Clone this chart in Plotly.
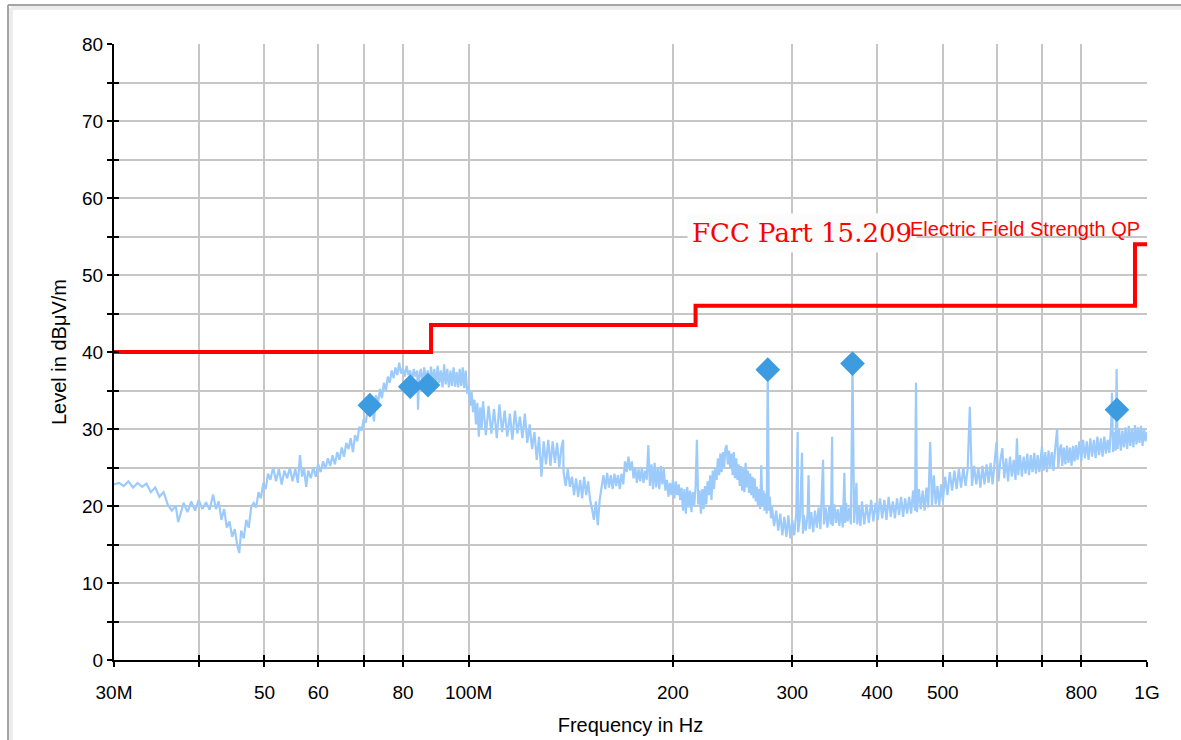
import plotly.graph_objects as go

# ---------------- data (MHz / dBuV/m) ----------------
scan_freq_mhz = [
    30.0, 30.5, 31.0, 31.5, 32.0, 32.5, 33.0, 33.5, 34.0, 34.5, 35.0, 35.5,
    36.0, 36.5, 37.0, 37.3, 37.6, 38.0, 38.5, 39.0, 39.5, 40.0, 40.5, 41.0,
    41.5, 42.0, 42.4, 42.8, 43.2, 43.6, 44.0, 44.4, 44.8, 45.2, 45.6, 45.9,
    46.2, 46.6, 47.0, 47.4, 47.8, 48.2, 48.6, 49.0, 49.4, 49.8, 50.2, 50.6,
    51.0, 51.5, 52.0, 52.5, 53.0, 53.5, 54.0, 54.5, 55.0, 55.5, 56.0, 56.4,
    56.8, 57.2, 57.6, 58.0, 58.5, 59.0, 59.5, 60.0, 60.5, 61.0, 61.5, 62.0,
    62.5, 63.0, 63.5, 64.0, 64.5, 65.0, 65.5, 66.0, 66.5, 67.0, 67.5, 68.0,
    68.5, 69.0, 69.5, 70.0, 70.5, 71.0, 71.5, 72.0, 72.5, 73.0, 73.5, 74.0,
    74.5, 75.0, 75.5, 76.0, 76.5, 77.0, 77.5, 78.0, 78.5, 79.0, 79.5, 80.0,
    80.5, 81.0, 81.5, 82.0, 82.5, 83.0, 83.5, 84.0, 84.2, 84.5, 85.0, 85.5,
    86.0, 86.5, 87.0, 87.5, 88.0, 88.5, 89.0, 89.5, 90.0, 90.5, 91.0, 91.5,
    92.0, 92.5, 93.0, 93.5, 94.0, 94.5, 95.0, 95.5, 96.0, 96.5, 97.0, 97.5,
    98.0, 98.5, 99.0, 99.5, 100.0, 100.5, 101.0, 101.5, 102.0, 102.5, 103.0, 103.5,
    104, 104.5, 105, 106, 107, 108, 109, 110, 111, 112, 113, 114,
    115, 116, 117, 118, 119, 120, 121, 122, 123, 124, 125, 126,
    127, 128, 129, 130, 131, 132, 133, 134, 135, 136, 137, 137.8,
    138, 139, 140, 141, 142, 143, 144, 145, 146, 147, 148, 149,
    150, 151, 152, 153, 154, 155, 156, 157, 158, 159, 160, 161,
    162, 163, 164, 165, 166, 167, 168, 169, 170, 171, 172, 173,
    174, 175, 176, 177, 178, 179, 180, 181, 182, 183, 184, 185,
    186, 187, 188, 189, 190, 191, 192, 193, 194, 195, 196, 197,
    198, 199, 200, 201, 202, 203, 204, 205, 206, 207, 208, 209,
    210, 211, 212, 213, 214, 215, 216, 217, 218, 219, 220, 221,
    222, 223, 224, 225, 226, 227, 228, 229, 230, 231, 232, 233,
    234, 235, 236, 237, 238, 239, 240, 241, 242, 243, 244, 245,
    246, 247, 248, 249, 250, 251, 252, 253, 254, 255, 256, 257,
    258, 259, 260, 261, 262, 263, 264, 265, 266, 267, 268, 269,
    270, 271, 272, 273, 274, 275, 276, 277, 278, 279, 280, 282,
    284, 286, 288, 290, 292, 294, 296, 298, 300, 302, 304, 305.5,
    306, 308, 310, 311, 312, 314, 316, 317, 318, 320, 322, 324,
    326, 328, 330, 333, 334, 336, 338, 340, 342, 343.4, 344, 346,
    348, 350, 352, 354, 356, 358, 359, 360, 362, 364, 366, 368,
    370, 373, 374, 376, 378, 380, 383, 386, 389, 392, 395, 398,
    401, 404, 407, 410, 413, 416, 419, 422, 425, 428, 431, 434,
    437, 440, 443, 446, 449, 452, 455, 456.5, 458, 461, 464, 467,
    470, 473, 476, 479, 482, 485, 488, 491, 494, 497, 500, 504,
    508, 512, 516, 520, 524, 528, 532, 536, 540, 544, 548, 552,
    556, 560, 564, 568, 572, 576, 580, 584, 588, 592, 596, 600,
    604, 608, 612, 616, 620, 624, 628, 632, 636, 640, 643, 646,
    650, 654, 658, 662, 666, 670, 674, 678, 682, 686, 690, 694,
    700, 704, 708, 712, 716, 720, 724, 728, 732, 737, 740, 744,
    747, 750, 754, 758, 762, 766, 770, 774, 778, 782, 786, 790,
    795, 800, 805, 810, 815, 820, 825, 830, 835, 840, 845, 850,
    855, 860, 865, 870, 875, 880, 885, 888, 891, 895, 899, 902,
    905, 910, 915, 920, 925, 930, 935, 940, 945, 950, 955, 960,
    965, 970, 975, 980, 985, 990, 995, 1000,
]
scan_level = [
    22.8, 23.0, 22.6, 23.2, 22.4, 23.0, 22.5, 22.9, 21.8, 22.4, 21.2, 21.8,
    20.2, 19.4, 20.0, 17.9, 19.0, 20.4, 19.2, 20.6, 19.4, 20.8, 19.6, 20.5,
    19.5, 21.5, 19.6, 20.6, 18.2, 19.6, 17.2, 18.0, 16.0, 17.0, 14.8, 13.9,
    16.8, 15.8, 18.2, 17.2, 19.9, 20.4, 19.8, 21.8, 21.0, 23.0, 22.2, 24.2,
    23.4, 25.0, 23.2, 24.8, 22.8, 24.6, 23.6, 25.0, 23.2, 24.8, 23.0, 26.6,
    23.8, 24.8, 22.5, 24.6, 23.6, 25.0, 23.8, 25.4, 24.4, 25.8, 24.8, 26.2,
    25.2, 26.6, 25.4, 27.0, 26.0, 27.6, 26.4, 28.2, 27.4, 28.8, 27.0, 29.2,
    28.4, 30.3, 29.8, 31.2, 30.8, 32.6, 31.8, 33.6, 31.0, 34.4, 33.2, 35.2,
    34.0, 36.0, 35.0, 36.8, 36.0, 37.6, 36.6, 38.0, 37.0, 38.6, 37.2, 37.9,
    36.8, 38.2, 37.0, 37.6, 36.2, 37.8, 36.8, 37.6, 32.5, 36.6, 37.8, 35.8,
    38.0, 36.2, 37.6, 35.6, 38.1, 36.0, 37.8, 35.4, 38.2, 36.0, 37.6, 35.4,
    38.4, 35.8, 37.8, 35.4, 37.6, 35.6, 38.0, 35.5, 37.4, 35.4, 37.8, 35.6,
    38.0, 35.3, 37.6, 34.6, 35.6, 33.0, 34.8, 32.2, 33.8, 30.6, 33.4, 29.0,
    32.8, 30.0, 33.6, 29.2, 33.0, 29.4, 32.6, 28.8, 33.2, 29.6, 32.4, 29.0,
    32.0, 28.6, 32.4, 29.4, 31.6, 28.8, 32.0, 28.2, 30.6, 27.4, 29.6, 26.0,
    29.0, 23.8, 28.4, 25.4, 28.6, 25.2, 28.4, 25.6, 28.2, 25.0, 27.6, 28.6,
    24.4, 22.6, 24.8, 22.5, 23.8, 21.4, 23.6, 21.2, 23.4, 21.0, 23.8, 21.4,
    23.2, 20.8, 19.6, 18.2, 20.6, 17.5, 20.8, 22.4, 24.0, 22.2, 24.3, 22.4,
    24.0, 22.2, 24.2, 22.6, 24.0, 22.2, 24.2, 22.8, 25.8, 24.4, 26.4, 24.6,
    25.8, 23.6, 25.0, 23.0, 24.8, 23.2, 25.0, 23.0, 24.6, 23.4, 27.9, 22.6,
    25.4, 22.2, 25.6, 22.4, 25.0, 22.2, 25.2, 22.8, 24.8, 22.0, 23.4, 21.2,
    23.0, 21.4, 23.4, 21.0, 23.2, 21.4, 22.8, 20.8, 22.4, 19.4, 22.2, 19.0,
    22.5, 19.8, 22.0, 19.2, 21.8, 20.0, 22.4, 28.6, 20.2, 22.0, 19.0, 22.2,
    19.6, 22.6, 20.2, 23.2, 21.4, 24.0, 20.8, 24.6, 22.2, 25.0, 23.4, 26.2,
    24.0, 26.8, 24.4, 27.0, 25.0, 27.4, 27.9, 25.4, 27.2, 24.8, 26.8, 24.0,
    27.0, 23.6, 26.2, 23.4, 25.4, 22.6, 25.2, 22.0, 24.8, 21.8, 25.6, 22.4,
    24.6, 21.7, 24.2, 21.4, 23.8, 21.0, 23.6, 20.6, 22.5, 20.0, 22.2, 19.6,
    25.3, 20.0, 22.0, 19.4, 21.6, 19.0, 37.7, 19.4, 21.2, 18.4, 19.9, 17.4,
    19.4, 16.8, 19.0, 16.2, 18.6, 16.0, 18.8, 15.8, 18.2, 16.2, 19.0, 29.6,
    16.6, 18.6, 26.9, 16.4, 18.8, 16.8, 19.0, 24.0, 17.0, 19.2, 16.6, 19.4,
    17.2, 19.8, 17.0, 26.0, 17.6, 19.8, 17.2, 20.0, 17.6, 29.0, 17.4, 20.2,
    17.8, 19.6, 17.4, 20.0, 17.2, 24.3, 17.8, 20.4, 18.0, 19.8, 17.6, 38.5,
    17.8, 23.0, 17.6, 20.0, 17.4, 20.6, 17.6, 20.2, 17.8, 20.8, 18.0, 20.4,
    18.2, 21.0, 18.4, 20.8, 18.2, 21.2, 18.6, 20.6, 18.4, 21.0, 18.8, 21.2,
    18.6, 21.0, 19.0, 21.2, 19.0, 22.0, 19.4, 36.0, 19.2, 22.2, 19.6, 22.0,
    19.4, 22.4, 19.8, 28.3, 20.0, 24.0, 20.2, 22.6, 20.0, 22.8, 20.6, 23.8,
    21.4, 24.4, 22.0, 24.6, 22.2, 24.8, 22.4, 25.0, 22.6, 24.8, 32.9, 22.6,
    25.2, 22.8, 25.0, 22.4, 25.2, 22.8, 25.4, 23.0, 25.6, 22.8, 25.8, 28.3,
    23.2, 26.0, 27.5, 23.6, 26.2, 23.2, 26.4, 23.8, 26.0, 23.4, 28.8, 24.0,
    26.6, 23.8, 26.4, 24.2, 26.8, 24.0, 26.6, 24.4, 26.9, 24.2, 26.6, 24.4,
    27.7, 24.6, 27.0, 24.4, 27.2, 25.0, 27.0, 24.6, 27.4, 30.0, 25.0, 27.4,
    28.0, 25.2, 27.6, 25.4, 27.8, 25.6, 27.6, 25.2, 27.8, 25.8, 27.9, 26.0,
    28.4, 25.8, 28.6, 26.2, 28.4, 26.0, 28.8, 26.4, 28.6, 26.2, 29.0, 26.6,
    28.8, 26.4, 29.0, 26.8, 28.6, 26.9, 30.2, 34.7, 27.0, 29.6, 27.2, 37.8,
    27.4, 30.0, 27.2, 29.8, 27.6, 30.2, 27.4, 30.4, 27.8, 30.0, 27.6, 30.5,
    28.0, 30.2, 28.2, 30.4, 27.8, 30.0, 28.4, 29.6,
]

peak_freq_mhz = [71.5, 82.0, 87.1, 276.0, 368.0, 903.0]
peak_level = [33.1, 35.5, 35.7, 37.7, 38.5, 32.5]

limit_freq_mhz = [30, 88, 216, 960, 1000]
limit_level = [40.0, 43.5, 46.0, 54.0, 54.0]

x_tickvals = [30, 40, 50, 60, 70, 80, 100, 200, 300, 400, 500, 600, 700, 800, 1000]
x_ticktext = ["30M", "", "50", "60", "", "80", "100M", "200", "300", "400", "500", "", "", "800", "1G"]
y_tickvals = [0, 5, 10, 15, 20, 25, 30, 35, 40, 45, 50, 55, 60, 65, 70, 75, 80]
y_ticktext = ["0", "", "10", "", "20", "", "30", "", "40", "", "50", "", "60", "", "70", "", "80"]

# ---------------- figure ----------------
SANS = "Liberation Sans, Arial, sans-serif"
W, H = 1181, 740
L, R, T, B = 114, 34, 44, 80
pw, ph = W - L - R, H - T - B

fig = go.Figure()

fig.add_trace(go.Scatter(
    x=scan_freq_mhz, y=scan_level, mode="lines",
    line=dict(color="#9ccbfb", width=2.2), hoverinfo="skip", showlegend=False,
))
fig.add_trace(go.Scatter(
    x=limit_freq_mhz, y=limit_level, mode="lines", line_shape="hv",
    line=dict(color="#ff0000", width=4), hoverinfo="skip", showlegend=False,
))
fig.add_trace(go.Scatter(
    x=peak_freq_mhz, y=peak_level, mode="markers",
    marker=dict(symbol="diamond", size=19, color="#3d9be0"),
    hoverinfo="skip", showlegend=False,
))
# empty trace to register the overlay axes (used for the inner half of ticks)
fig.add_trace(go.Scatter(x=[], y=[], xaxis="x2", yaxis="y2", showlegend=False, hoverinfo="skip"))

axis_common = dict(tickfont=dict(family=SANS, size=19, color="#000"))

fig.update_layout(
    width=W, height=H,
    margin=dict(l=L, r=R, t=T, b=B, autoexpand=False),
    paper_bgcolor="white", plot_bgcolor="white",
    showlegend=False,
    font=dict(family=SANS, color="#000"),
    xaxis=dict(
        type="log", range=[1.4771213, 3.0],
        tickmode="array", tickvals=x_tickvals, ticktext=x_ticktext,
        ticks="outside", ticklen=5, tickwidth=2, tickcolor="#000",
        showline=True, linecolor="#000", linewidth=2,
        showgrid=True, gridcolor="#c6c6c6", gridwidth=2,
        zeroline=False, ticklabelstandoff=9,
        title=dict(text="Frequency in Hz", font=dict(family=SANS, size=20), standoff=16),
        automargin=False,
        **axis_common,
    ),
    yaxis=dict(
        range=[0, 80],
        tickmode="array", tickvals=y_tickvals, ticktext=y_ticktext,
        ticks="outside", ticklen=5, tickwidth=2, tickcolor="#000",
        showline=True, linecolor="#000", linewidth=2,
        showgrid=True, gridcolor="#c6c6c6", gridwidth=2,
        zeroline=False,
        title=dict(text="Level in dBμV/m", font=dict(family=SANS, size=20), standoff=10),
        automargin=False,
        **axis_common,
    ),
    xaxis2=dict(
        type="log", range=[1.4771213, 3.0], overlaying="x", anchor="y2",
        tickmode="array", tickvals=x_tickvals, showticklabels=False,
        ticks="inside", ticklen=5, tickwidth=2, tickcolor="#000",
        showgrid=False, showline=False, zeroline=False,
    ),
    yaxis2=dict(
        range=[0, 80], overlaying="y", anchor="x2", side="left",
        tickmode="array", tickvals=y_tickvals, showticklabels=False,
        ticks="inside", ticklen=5, tickwidth=2, tickcolor="#000",
        showgrid=False, showline=False, zeroline=False,
    ),
)

# limit-line labels
fig.add_annotation(
    xref="paper", yref="paper", x=(687 - L) / pw, y=(H - B - 233) / ph,
    xanchor="left", yanchor="middle", showarrow=False,
    text="FCC Part 15.209", font=dict(family="DejaVu Serif", size=26, color="#ff0000"),
    bgcolor="#fcfcfc", borderpad=4,
)
fig.add_annotation(
    xref="paper", yref="paper", x=(908 - L) / pw, y=(H - B - 229) / ph,
    xanchor="left", yanchor="middle", showarrow=False,
    text="Electric Field Strength QP", font=dict(family=SANS, size=20, color="#ff0000"),
)

# outer page frame: only the left and top edges fall inside the page
def px_x(v):
    return (v - L) / pw


def px_y(v):
    return (H - B - v) / ph


for (xa, ya, xb, yb, col, wd) in [
    (11, 8, 1400, 8, "#ececec", 4),
    (11, 8, 11, 900, "#ececec", 4),
    (8, 5, 1400, 5, "#a4a4a4", 2),
    (8, 5, 8, 900, "#a4a4a4", 2),
]:
    fig.add_shape(type="line", xref="paper", yref="paper",
                  x0=px_x(xa), y0=px_y(ya), x1=px_x(xb), y1=px_y(yb),
                  line=dict(color=col, width=wd), layer="below")

fig.write_html("out.html")
